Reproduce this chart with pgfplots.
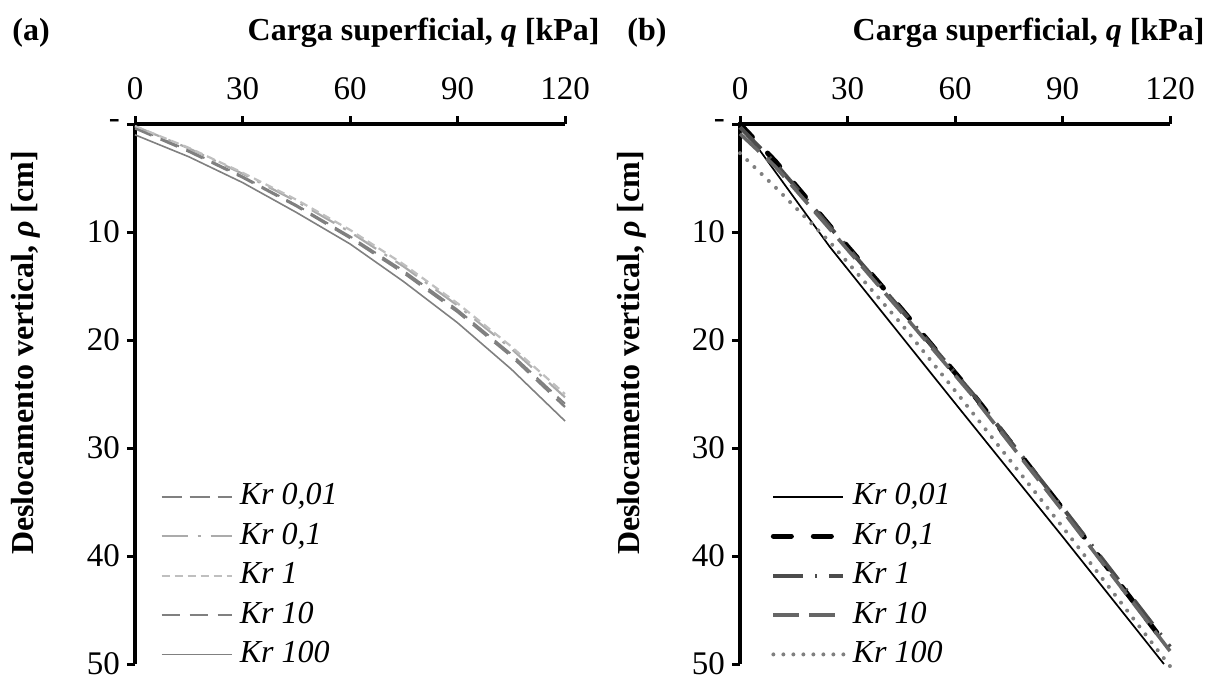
\documentclass[border=0pt]{standalone}
\usepackage{fontspec}
\setmainfont{Liberation Serif}
\usepackage{pgfplots}
\pgfplotsset{compat=1.18}
\pgfplotsset{
  base/.style={
    scale only axis, width=215pt, height=270pt,
    xmin=0, xmax=120, ymin=0, ymax=50, y dir=reverse,
    axis x line=top, axis y line=left,
    axis line style={-, line width=2pt, black},
    xtick={0,30,60,90,120}, xticklabels={0,30,60,90,120},
    ytick={0,10,20,30,40,50}, yticklabels={-\hspace{3pt},10,20,30,40,50},
    tick align=outside, major tick length=4pt,
    tick style={line width=1.5pt, black},
    ticklabel style={font=\fontsize{16.5}{16.5}\selectfont},
    xticklabel style={yshift=4.5pt},
    yticklabel style={inner ysep=1pt},
    clip=false,
    legend cell align=left,
    legend style={anchor=north west, draw=none, fill=none, inner sep=0pt,
      row sep=3.7pt, font=\fontsize{16}{16}\selectfont\itshape,
      nodes={inner sep=1pt, text height=11pt, text depth=3pt},
      /tikz/every odd column/.append style={column sep=2.5pt}},
    legend image code/.code={\draw[##1] (0pt,0pt) -- (35pt,0pt);},
  }
}
\begin{document}
\begin{tikzpicture}
\useasboundingbox (0,0) rectangle (604pt,-341pt);
% ---------- (a)
\begin{axis}[base, at={(67.5pt,-62pt)}, anchor=north west,
  legend style={at={(axis cs:7.0,33.0)}}]
\addplot[black!50, line width=1pt, dash pattern=on 10pt off 4pt] coordinates {
 (0,0.3) (15,2.45) (30,4.85) (45,7.5) (60,10.4) (75,13.6) (90,17.2) (105,21.3) (120,25.9)};
\addplot[black!33, line width=1.1pt, dash pattern=on 13pt off 5pt on 1.5pt off 5pt] coordinates {
 (0,0.2) (15,2.25) (30,4.6) (45,7.15) (60,10.0) (75,13.2) (90,16.8) (105,20.8) (120,25.3)};
\addplot[black!25, line width=1.1pt, dash pattern=on 4pt off 2.5pt] coordinates {
 (0,0.2) (15,2.2) (30,4.5) (45,7.0) (60,9.8) (75,13.0) (90,16.6) (105,20.6) (120,25.0)};
\addplot[black!50, line width=1.2pt, dash pattern=on 9pt off 5pt] coordinates {
 (0,0.4) (15,2.55) (30,4.95) (45,7.6) (60,10.55) (75,13.8) (90,17.4) (105,21.5) (120,26.2)};
\addplot[black!50, line width=0.8pt] coordinates {
 (0,1.0) (15,3.03) (30,5.42) (45,8.18) (60,11.1) (75,14.6) (90,18.4) (105,22.7) (120,27.5)};
\legend{{Kr 0,01}, {Kr 0,1}, {Kr 1}, {Kr 10}, {Kr 100}}
\end{axis}
% ---------- (b)
\begin{axis}[base, at={(370pt,-62pt)}, anchor=north west,
  legend style={at={(axis cs:8.5,33.0)}}]
\addplot[black, line width=0.85pt] coordinates {
 (0,0) (5,2.2) (25,11.35) (58.6,25.27) (90,38.2) (118.3,50)};
\addplot[black, line width=2.5pt, line cap=round, dash pattern=on 9pt off 11pt] coordinates {
 (0,0) (10,3.5) (25,9.4) (45,17.1) (65,25.0) (90,35.6) (120,48.7)};
\addplot[black!70, line width=2pt, dash pattern=on 15pt off 6pt on 1pt off 6pt] coordinates {
 (0,0.3) (10,3.7) (25,9.5) (45,17.2) (65,25.0) (90,35.5) (120,48.4)};
\addplot[black!60, line width=1.8pt, dash pattern=on 13pt off 5pt] coordinates {
 (0,0.9) (10,4.0) (25,9.7) (45,17.4) (65,25.2) (90,35.8) (120,48.8)};
\addplot[black!50, line width=2pt, line cap=round, dash pattern=on 0pt off 5pt] coordinates {
 (0,2.7) (10,5.9) (25,10.9) (45,18.5) (61,25.1) (90,37.3) (120,50.2)};
\legend{{Kr 0,01}, {Kr 0,1}, {Kr 1}, {Kr 10}, {Kr 100}}
\end{axis}
% ---------- titles and labels
\begin{scope}[every node/.style={font=\bfseries\fontsize{16}{16}\selectfont, inner sep=0pt}]
\node[anchor=base west] at (6pt,-20.3pt) {(a)};
\node[anchor=base east] at (300pt,-20.3pt) {Carga superficial, \textit{q} [kPa]};
\node[anchor=base west] at (313.5pt,-20.3pt) {(b)};
\node[anchor=base east] at (602.5pt,-20.3pt) {Carga superficial, \textit{q} [kPa]};
\node[rotate=90] at (13pt,-176.5pt) {Deslocamento vertical, \textit{ρ} [cm]};
\node[rotate=90] at (316pt,-176.5pt) {Deslocamento vertical, \textit{ρ} [cm]};
\end{scope}
\end{tikzpicture}
\end{document}
